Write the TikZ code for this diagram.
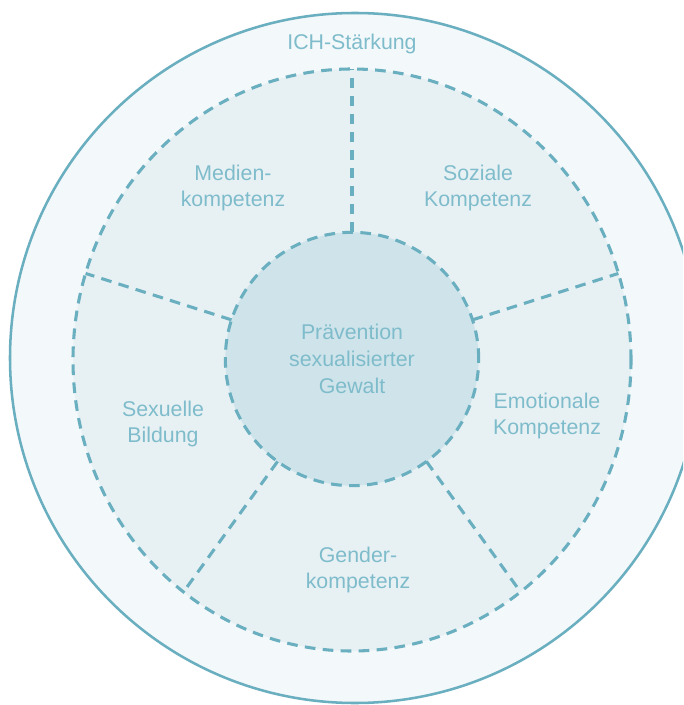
\documentclass[tikz,border=0pt]{standalone}
\usepackage{fontspec}
\setmainfont{Liberation Sans}
\usetikzlibrary{shapes.geometric}

\definecolor{ringline}{HTML}{6AAFC0}
\definecolor{ringtext}{HTML}{7FBCCB}
\definecolor{outerfill}{HTML}{F3F8FA}
\definecolor{midfill}{HTML}{E7F1F4}
\definecolor{corefill}{HTML}{CFE4EA}

\tikzset{
  dashline/.style={draw=ringline, line width=2.3pt, dash pattern=on 8pt off 5.5pt},
  label/.style={text=ringtext, align=center, font=\fontsize{16}{20}\selectfont},
}

\begin{document}
\begin{tikzpicture}[x=0.75pt, y=-0.75pt]
  \useasboundingbox (0,0) rectangle (683,705);
  \clip (0,0) rectangle (683,705);
  % Centres
  \coordinate (O) at (352,359);
  \coordinate (E) at (355,358);
  % Outer ring
  \fill[white] (0,0) rectangle (683,705);
  \draw[draw=ringline, line width=1.9pt, fill=outerfill] (E) circle[radius=345];
  % Middle ring and core
  \node[ellipse, dashline, fill=midfill, minimum width=418.5pt, minimum height=436.5pt, inner sep=0pt, outer sep=0pt] (ring) at (352,360) {};
  \node[circle, dashline, fill=corefill, minimum size=190pt, inner sep=0pt, outer sep=0pt, label] (core) at (O) {Prävention\\sexualisierter\\Gewalt};
  % Spokes between core and ring
  \foreach \a in {90,18,-54,-126,162}
    \draw[dashline] (core.\a) -- (ring.\a);
  % Labels
  \node[label] (ich) at (352,44) {ICH-Stärkung};
  \node[label] (medien) at (233,188) {Medien-\\kompetenz};
  \node[label] (sozial) at (478,188) {Soziale\\Kompetenz};
  \node[label] (sexuell) at (163,424) {Sexuelle\\Bildung};
  \node[label] (emotion) at (547,416) {Emotionale\\Kompetenz};
  \node[label] (gender) at (358,570) {Gender-\\kompetenz};
\end{tikzpicture}
\end{document}
